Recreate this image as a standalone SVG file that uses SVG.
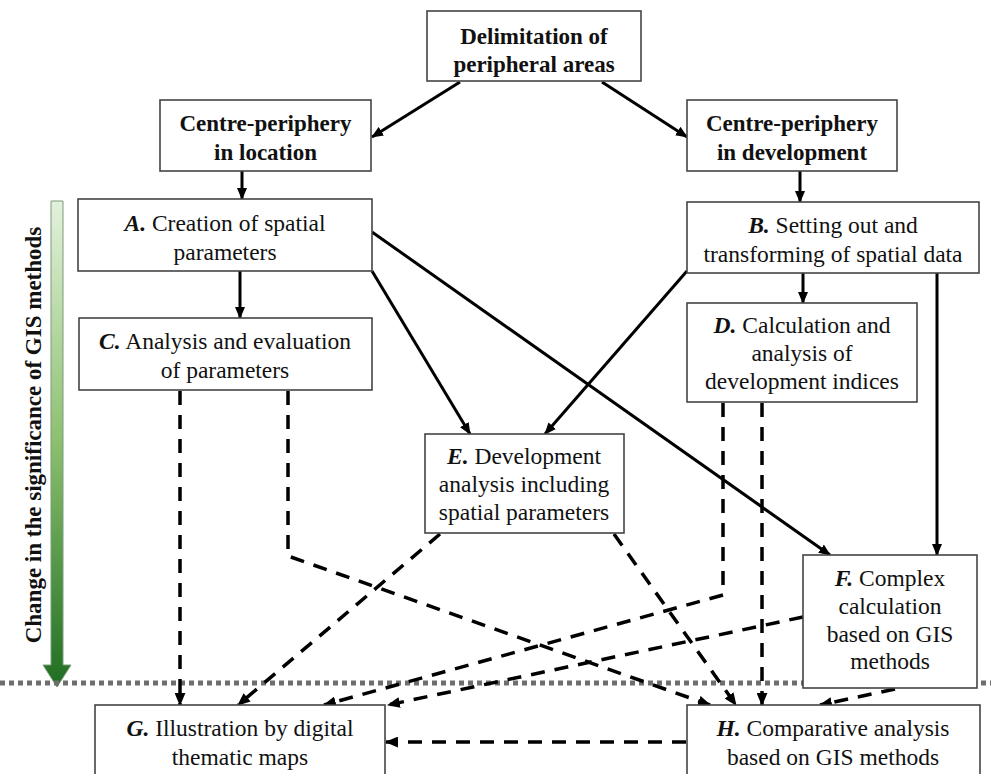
<svg xmlns="http://www.w3.org/2000/svg" width="991" height="774" viewBox="0 0 991 774">
<style>
.box{fill:#fff;stroke:#444;stroke-width:1.6}
.t{font-family:"Liberation Serif",serif;font-size:23.5px;fill:#111;text-anchor:middle}
.b{font-weight:bold;font-size:23px}
.l{font-weight:bold;font-style:italic}
.s{fill:none;stroke:#000;stroke-width:3}
.d{fill:none;stroke:#000;stroke-width:3.5;stroke-dasharray:14 10}
</style>
<defs>
<marker id="ah" viewBox="0 0 12 10" refX="11" refY="5" markerWidth="12" markerHeight="10" markerUnits="userSpaceOnUse" orient="auto">
<path d="M0,0 L12,5 L0,10 Z" fill="#000"/>
</marker>
<marker id="ahd" viewBox="0 0 12 10" refX="11" refY="5" markerWidth="13" markerHeight="11" markerUnits="userSpaceOnUse" orient="auto">
<path d="M0,0 L12,5 L0,10 Z" fill="#000"/>
</marker>
<linearGradient id="g" x1="0" y1="0" x2="0" y2="1">
<stop offset="0" stop-color="#e3f1dc"/>
<stop offset="0.5" stop-color="#8bbf6e"/>
<stop offset="1" stop-color="#1f6e22"/>
</linearGradient>
</defs>

<g id="significance">
<path d="M51,201 L63,201 L63,665 L71,665 L57,687 L43,665 L51,665 Z" fill="url(#g)" stroke="#7a9c78" stroke-width="1"/>
<text class="t b" transform="translate(41,435) rotate(-90)">Change in the significance of GIS methods</text>
</g>

<g id="divider">
<line x1="0" y1="683" x2="991" y2="683" stroke="#6e6e6e" stroke-width="5" stroke-dasharray="5 4"/>
</g>

<g id="connectors">
<line class="s" x1="460" y1="82" x2="372" y2="137" marker-end="url(#ah)"/>
<line class="s" x1="602" y1="82" x2="687" y2="137" marker-end="url(#ah)"/>
<line class="s" x1="242" y1="171" x2="242" y2="199" marker-end="url(#ah)"/>
<line class="s" x1="800" y1="171" x2="800" y2="202" marker-end="url(#ah)"/>
<line class="s" x1="240" y1="271" x2="240" y2="318" marker-end="url(#ah)"/>
<line class="s" x1="803" y1="273" x2="803" y2="303" marker-end="url(#ah)"/>
<line class="s" x1="372" y1="271" x2="470" y2="434" marker-end="url(#ah)"/>
<line class="s" x1="372" y1="232" x2="830" y2="555" marker-end="url(#ah)"/>
<line class="s" x1="687" y1="271" x2="545" y2="434" marker-end="url(#ah)"/>
<line class="s" x1="937" y1="273" x2="937" y2="555" marker-end="url(#ah)"/>
<line class="d" x1="180" y1="391" x2="180" y2="705" marker-end="url(#ahd)"/>
<polyline class="d" points="288,391 288,556 710,705" marker-end="url(#ahd)"/>
<line class="d" x1="440" y1="534" x2="238" y2="705" marker-end="url(#ahd)"/>
<line class="d" x1="614" y1="534" x2="736" y2="705" marker-end="url(#ahd)"/>
<polyline class="d" points="723,403 723,595 324,705" marker-end="url(#ahd)"/>
<line class="d" x1="762" y1="403" x2="762" y2="705" marker-end="url(#ahd)"/>
<line class="d" x1="803" y1="617" x2="388" y2="705" marker-end="url(#ahd)"/>
<line class="d" x1="895" y1="689" x2="820" y2="705" marker-end="url(#ahd)"/>
<line class="d" x1="686" y1="742" x2="386" y2="742" marker-end="url(#ahd)"/>
</g>

<g id="delimitation">
<rect class="box" x="427" y="11" width="214" height="70"/>
<text class="t b" x="534" y="44">Delimitation of</text>
<text class="t b" x="534" y="72">peripheral areas</text>
</g>
<g id="cp-location">
<rect class="box" x="160" y="100" width="211" height="71"/>
<text class="t b" x="265.5" y="131">Centre-periphery</text>
<text class="t b" x="265.5" y="160">in location</text>
</g>
<g id="cp-development">
<rect class="box" x="687" y="100" width="210" height="71"/>
<text class="t b" x="792" y="131">Centre-periphery</text>
<text class="t b" x="792" y="160">in development</text>
</g>
<g id="A">
<rect class="box" x="78" y="199" width="294" height="72"/>
<text class="t" x="225" y="231"><tspan class="l">A.</tspan> Creation of spatial</text>
<text class="t" x="225" y="260">parameters</text>
</g>
<g id="B">
<rect class="box" x="687" y="202" width="292" height="71"/>
<text class="t" x="833" y="233"><tspan class="l">B.</tspan> Setting out and</text>
<text class="t" x="833" y="262">transforming of spatial data</text>
</g>
<g id="C">
<rect class="box" x="79" y="318" width="293" height="72"/>
<text class="t" x="225" y="349"><tspan class="l">C.</tspan> Analysis and evaluation</text>
<text class="t" x="225" y="378">of parameters</text>
</g>
<g id="D">
<rect class="box" x="687" y="303" width="230" height="99"/>
<text class="t" x="802" y="333"><tspan class="l">D.</tspan> Calculation and</text>
<text class="t" x="802" y="361">analysis of</text>
<text class="t" x="802" y="389">development indices</text>
</g>
<g id="E">
<rect class="box" x="425" y="434" width="199" height="99"/>
<text class="t" x="524" y="464"><tspan class="l">E.</tspan> Development</text>
<text class="t" x="524" y="492">analysis including</text>
<text class="t" x="524" y="520">spatial parameters</text>
</g>
<g id="F">
<rect class="box" x="803" y="555" width="174" height="133"/>
<text class="t" x="890" y="586"><tspan class="l">F.</tspan> Complex</text>
<text class="t" x="890" y="614">calculation</text>
<text class="t" x="890" y="642">based on GIS</text>
<text class="t" x="890" y="669">methods</text>
</g>
<g id="G">
<rect class="box" x="95" y="705" width="290" height="80"/>
<text class="t" x="240" y="736"><tspan class="l">G.</tspan> Illustration by digital</text>
<text class="t" x="240" y="765">thematic maps</text>
</g>
<g id="H">
<rect class="box" x="687" y="705" width="293" height="80"/>
<text class="t" x="833" y="736"><tspan class="l">H.</tspan> Comparative analysis</text>
<text class="t" x="833" y="765">based on GIS methods</text>
</g>
</svg>
